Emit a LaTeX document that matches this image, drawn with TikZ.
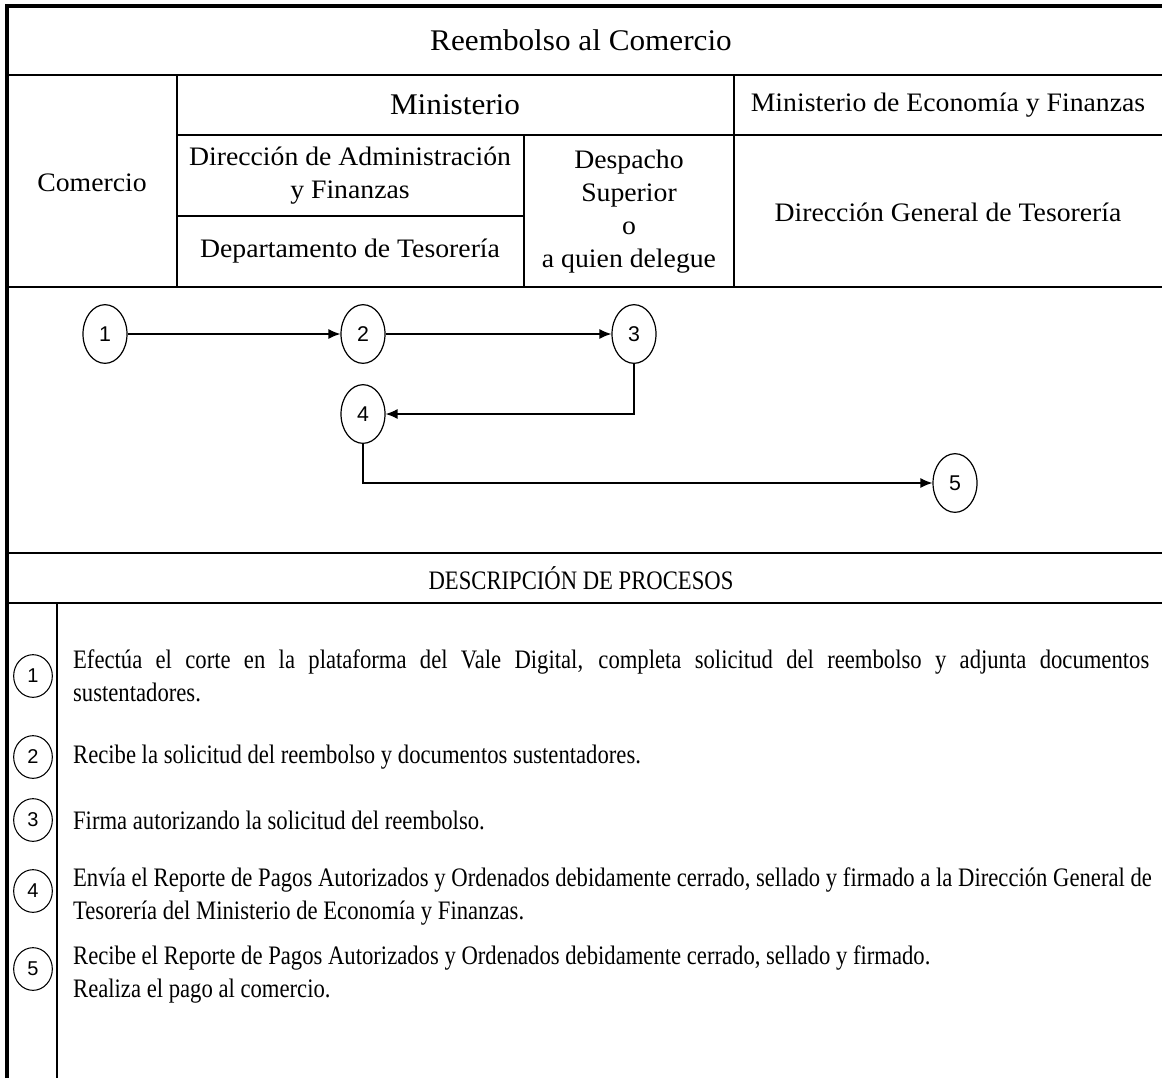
\documentclass[tikz,border=0pt]{standalone}
\usepackage{fontspec}
\setmainfont{Liberation Serif}
\newfontfamily\headfont[FakeStretch=1.04]{Liberation Serif}
\newfontfamily\descfont[FakeStretch=0.85]{Liberation Serif}
\newfontfamily\numfont{Liberation Sans}
\usepackage{tikz}
\usetikzlibrary{
  arrows.meta,
  positioning,
  shapes.geometric
}

\tikzset{
  hdr/.style={align=center, inner sep=0pt, font=\headfont\fontsize{20}{24.75}\selectfont},
  hdrbig/.style={hdr, font=\headfont\fontsize{22.5}{26}\selectfont},
  desc/.style={align=left, inner sep=0pt, font=\descfont\fontsize{20}{24.75}\selectfont},
  paso/.style={draw, ellipse, line width=0.9pt, minimum width=33pt, minimum height=44pt, inner sep=0pt, font=\numfont\fontsize{16}{16}\selectfont},
  pasochico/.style={draw, ellipse, line width=0.8pt, minimum width=29pt, minimum height=32pt, inner sep=0pt, font=\numfont\fontsize{15}{15}\selectfont},
  fino/.style={line width=0.8pt},
  flecha/.style={->, line width=1pt},
  grueso/.style={line width=1.3pt},
  borde/.style={line width=2.4pt}
}

\begin{document}
\begin{tikzpicture}[x=0.75pt, y=-0.75pt, >={Latex[length=9pt,width=7.5pt]}]
  \useasboundingbox (0,0) rectangle (1162,1078);

  % table lines
  \draw [borde] (7,1078) -- (7,6) -- (1162,6);
  \draw [fino] (7,75) -- (1162,75);
  \draw [fino] (177,135) -- (1162,135);
  \draw [fino] (177,216) -- (524,216);
  \draw [fino] (177,75) -- (177,287);
  \draw [fino] (524,135) -- (524,287);
  \draw [fino] (734,75) -- (734,287);
  \draw [grueso] (7,287) -- (1162,287);
  \draw [grueso] (7,553) -- (1162,553);
  \draw [grueso] (7,603) -- (1162,603);
  \draw [fino] (57,603) -- (57,1078);

  % headers
  \node [hdrbig] (titulo) at (581,40) {Reembolso al Comercio};
  \node [hdr] (comercio) at (92,183) {Comercio};
  \node [hdrbig] (ministerio) at (455,105) {Ministerio};
  \node [hdr] (mef) at (948,105) {Ministerio de Economía y Finanzas};
  \node [hdr] (daf) at (350,176) {Dirección de Administración \\ y Finanzas};
  \node [hdr] (tesoreria) at (350,251) {Departamento de Tesorería};
  \node [hdr] (despacho) at (629,212) {Despacho \\ Superior \\ o \\ a quien delegue};
  \node [hdr] (dgt) at (948,212) {Dirección General de Tesorería};

  % flow
  \node [paso] (p1) at (105,334) {1};
  \node [paso] (p2) at (363,334) {2};
  \node [paso] (p3) at (634,334) {3};
  \node [paso] (p4) at (363,414) {4};
  \node [paso] (p5) at (955,483) {5};
  \draw [flecha] (p1) -- (p2);
  \draw [flecha] (p2) -- (p3);
  \draw [flecha] (p3.south) |- (p4.east);
  \draw [flecha] (p4.south) |- (p5.west);

  % descriptions
  \node [desc] (procesos) at (581,578) {DESCRIPCIÓN DE PROCESOS};
  \node [pasochico] (d1) at (33,676) {1};
  \node [pasochico] (d2) at (33,757) {2};
  \node [pasochico] (d3) at (33,820) {3};
  \node [pasochico] (d4) at (33,891) {4};
  \node [pasochico] (d5) at (33,969) {5};
  \node [desc, right=15pt of d1] (t1) {\makebox[807pt][s]{Efectúa el corte en la plataforma del Vale Digital, completa solicitud del reembolso y adjunta documentos} \\ sustentadores.};
  \node [desc, right=15pt of d2] (t2) {Recibe la solicitud del reembolso y documentos sustentadores.};
  \node [desc, right=15pt of d3] (t3) {Firma autorizando la solicitud del reembolso.};
  \node [desc, right=15pt of d4, yshift=-4pt] (t4) {Envía el Reporte de Pagos Autorizados y Ordenados debidamente cerrado, sellado y firmado a la Dirección General de \\ Tesorería del Ministerio de Economía y Finanzas.};
  \node [desc, right=15pt of d5, yshift=-4pt] (t5) {Recibe el Reporte de Pagos Autorizados y Ordenados debidamente cerrado, sellado y firmado. \\ Realiza el pago al comercio.};
\end{tikzpicture}
\end{document}
